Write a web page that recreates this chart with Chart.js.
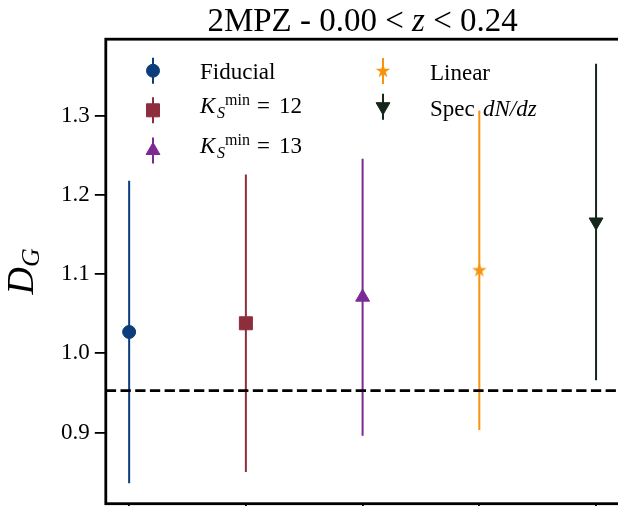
<!DOCTYPE html>
<html><head><meta charset="utf-8">
<script src="https://cdn.jsdelivr.net/npm/chart.js@4.4.1/dist/chart.umd.min.js"></script>
<style>
html,body{margin:0;padding:0;background:#fff;overflow:hidden;width:618px;height:506px;}
#wrap{position:absolute;left:0;top:0;width:622px;height:510px;}
</style></head><body>
<div id="wrap"><canvas id="c"></canvas></div>
<script>
// ---- data ----
const categories = ['Fiducial', 'K_S^min = 12', 'K_S^min = 13', 'Linear', 'Spec dN/dz'];
const xPositions = [0, 1, 2, 3, 4];
const dgValues = [1.027, 1.038, 1.071, 1.105, 1.166];
const dgErrors = [0.191, 0.188, 0.175, 0.202, 0.200];
const referenceValue = 0.953;
const yTickValues = [0.9, 1.0, 1.1, 1.2, 1.3];
const xTickValues = [0, 1, 2, 3, 4];
const xLimits = [-0.2, 4.2];
const yLimits = [0.810, 1.397];

// ---- styles ----
const FONT = '"Liberation Serif", "Times New Roman", serif';
const colors = ['#0b3d7c', '#8e2d3c', '#7b2a93', '#f7930f', '#15261a'];

function makeStar(color, R) {
  const s = 18;
  const c = document.createElement('canvas');
  c.width = s; c.height = s;
  const g = c.getContext('2d');
  g.fillStyle = color;
  g.beginPath();
  for (let k = 0; k < 10; k++) {
    const r = k % 2 ? R * 0.382 : R;
    const a = -Math.PI / 2 + k * Math.PI / 5;
    g.lineTo(s / 2 + r * Math.cos(a), s / 2 + r * Math.sin(a));
  }
  g.closePath(); g.fill();
  return c;
}
const markerStyles = [
  { pointStyle: 'circle', radius: 6.5, rotation: 0 },
  { pointStyle: 'rect', radius: 9.2, rotation: 0 },
  { pointStyle: 'triangle', radius: 8, rotation: 0 },
  { pointStyle: makeStar(colors[3], 7.6), radius: 7, rotation: 0 },
  { pointStyle: 'triangle', radius: 8, rotation: 180 }
];

// ---- datasets ----
const datasets = [];
datasets.push({
  type: 'line',
  data: [{ x: xLimits[0], y: referenceValue }, { x: xLimits[1], y: referenceValue }],
  borderColor: '#000', borderWidth: 2.8, borderDash: [10.3, 4.4],
  pointRadius: 0, fill: false
});
categories.forEach((c, i) => {
  datasets.push({
    type: 'scatter', label: c,
    data: [{ x: xPositions[i], y: dgValues[i] }],
    pointStyle: markerStyles[i].pointStyle,
    pointRadius: markerStyles[i].radius,
    pointRotation: markerStyles[i].rotation,
    backgroundColor: colors[i], borderColor: colors[i], borderWidth: 1
  });
});
categories.forEach((c, i) => {
  datasets.push({
    type: 'line',
    data: [{ x: xPositions[i], y: dgValues[i] - dgErrors[i] }, { x: xPositions[i], y: dgValues[i] + dgErrors[i] }],
    borderColor: colors[i], borderWidth: 2, pointRadius: 0, fill: false
  });
});

// ---- text helpers ----
function drawRuns(ctx, x, y, runs) {
  for (const r of runs) {
    ctx.font = (r.italic ? 'italic ' : '') + r.size + 'px ' + FONT;
    ctx.fillText(r.t, x + r.dx, y + (r.dy || 0));
  }
}
function seqRuns(ctx, x, y, runs) {
  let cx = x;
  for (const r of runs) {
    ctx.font = (r.italic ? 'italic ' : '') + r.size + 'px ' + FONT;
    ctx.fillText(r.t, cx, y + (r.dy || 0));
    cx += ctx.measureText(r.t).width;
  }
  return cx - x;
}
function measureRuns(ctx, runs) {
  let w = 0;
  for (const r of runs) { ctx.font = (r.italic ? 'italic ' : '') + r.size + 'px ' + FONT; w += ctx.measureText(r.t).width; }
  return w;
}

const LS = 23;
const legendTexts = [
  [{ t: 'Fiducial', size: LS, dx: 0 }],
  [{ t: 'K', size: LS, italic: true, dx: 0 }, { t: 'S', size: 16, italic: true, dx: 17, dy: 5 }, { t: 'min', size: 16, dx: 25, dy: -8 }, { t: '=', size: LS, dx: 57 }, { t: '12', size: LS, dx: 79 }],
  [{ t: 'K', size: LS, italic: true, dx: 0 }, { t: 'S', size: 16, italic: true, dx: 17, dy: 5 }, { t: 'min', size: 16, dx: 25, dy: -8 }, { t: '=', size: LS, dx: 57 }, { t: '13', size: LS, dx: 79 }],
  [{ t: 'Linear', size: LS, dx: 0 }],
  [{ t: 'Spec', size: LS, dx: 0 }, { t: 'dN/dz', size: LS, italic: true, dx: 53 }]
];
const legendPos = [
  { mx: 153, my: 70.7, tx: 200, ty: 79.3 },
  { mx: 153, my: 110.3, tx: 200, ty: 113.3 },
  { mx: 153, my: 150.5, tx: 200, ty: 152.7 },
  { mx: 383, my: 71, tx: 430, ty: 80 },
  { mx: 383, my: 106.7, tx: 430, ty: 116 }
];

const overlay = {
  id: 'overlay',
  afterDraw(chart) {
    const ctx = chart.ctx, a = chart.chartArea;
    ctx.save();
    // spines
    ctx.strokeStyle = '#000'; ctx.lineWidth = 2.8;
    ctx.strokeRect(a.left, a.top, a.right - a.left, a.bottom - a.top);
    // title
    ctx.fillStyle = '#000'; ctx.textBaseline = 'alphabetic'; ctx.textAlign = 'left';
    const tr = [{ t: '2MPZ - 0.00 < ', size: 33 }, { t: 'z', size: 33, italic: true }, { t: ' < 0.24', size: 33 }];
    const tw = measureRuns(ctx, tr);
    seqRuns(ctx, (a.left + a.right) / 2 - tw / 2, 31, tr);
    // y label
    ctx.save();
    ctx.translate(33, (a.top + a.bottom) / 2);
    ctx.rotate(-Math.PI / 2);
    ctx.font = 'italic 38px ' + FONT; const wD = ctx.measureText('D').width;
    ctx.font = 'italic 26px ' + FONT; const wG = ctx.measureText('G').width;
    const st = -(wD + wG) / 2;
    ctx.font = 'italic 38px ' + FONT; ctx.fillText('D', st, 0);
    ctx.font = 'italic 26px ' + FONT; ctx.fillText('G', st + wD, 6);
    ctx.restore();
    // legend
    categories.forEach((c, i) => {
      const p = legendPos[i];
      ctx.strokeStyle = colors[i]; ctx.fillStyle = colors[i]; ctx.lineWidth = 2;
      ctx.beginPath(); ctx.moveTo(p.mx, p.my - 13); ctx.lineTo(p.mx, p.my + 13); ctx.stroke();
      ctx.lineWidth = 1;
      Chart.helpers.drawPoint(ctx, { pointStyle: markerStyles[i].pointStyle, radius: markerStyles[i].radius, rotation: markerStyles[i].rotation, borderWidth: 1 }, p.mx, p.my);
      ctx.fillStyle = '#000';
      drawRuns(ctx, p.tx, p.ty, legendTexts[i]);
    });
    ctx.restore();
  }
};

function zeroPad(s) { s.paddingTop = 0; s.paddingBottom = 0; s.paddingLeft = 0; s.paddingRight = 0; }

new Chart(document.getElementById('c'), {
  data: { datasets },
  options: {
    responsive: true, maintainAspectRatio: false, animation: false, devicePixelRatio: 1,
    events: [],
    layout: { autoPadding: false, padding: { top: 39.2, right: 2.6, bottom: 0, left: 0 } },
    plugins: { legend: { display: false }, tooltip: { enabled: false }, title: { display: false } },
    scales: {
      x: {
        type: 'linear', min: xLimits[0], max: xLimits[1],
        afterBuildTicks: (s) => { s.ticks = xTickValues.map(v => ({ value: v })); },
        afterFit: (s) => { s.height = 6.3; zeroPad(s); },
        ticks: { display: false },
        grid: { drawOnChartArea: false, drawTicks: true, tickLength: 10, color: '#000', lineWidth: 1.8 },
        border: { display: false }
      },
      y: {
        type: 'linear', min: yLimits[0], max: yLimits[1],
        afterBuildTicks: (s) => { s.ticks = yTickValues.map(v => ({ value: v })); },
        afterFit: (s) => { s.width = 105.8; zeroPad(s); },
        ticks: { padding: 5, color: '#000', font: { family: FONT, size: 23 }, callback: (v) => Number(v).toFixed(1) },
        grid: { drawOnChartArea: false, drawTicks: true, tickLength: 11, color: '#000', lineWidth: 1.8 },
        border: { display: false }
      }
    }
  },
  plugins: [overlay]
});
</script>
</body></html>
